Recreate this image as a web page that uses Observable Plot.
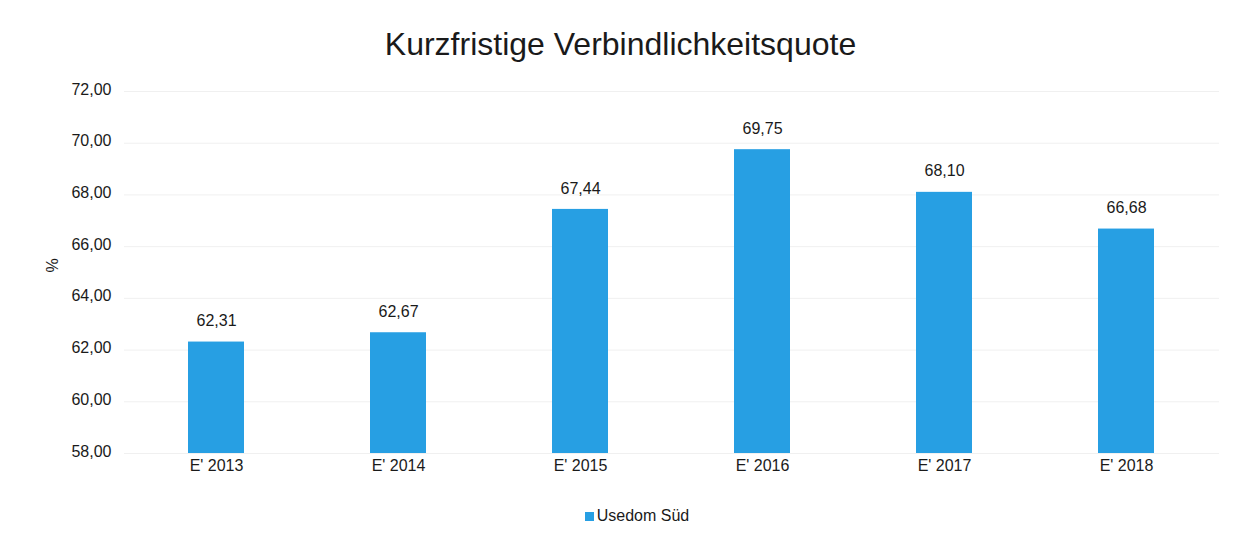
<!DOCTYPE html>
<html><head><meta charset="utf-8">
<script src="https://cdn.jsdelivr.net/npm/d3@7"></script>
<script src="https://cdn.jsdelivr.net/npm/@observablehq/plot@0.6"></script>
<style>
body{margin:0;background:#fff;font-family:"Liberation Sans",Arial,sans-serif;color:#1a1a1a;}
#title{height:72px;line-height:88px;text-align:center;font-size:32px;padding-right:6px;box-sizing:border-box;}
#legend{display:flex;justify-content:center;align-items:center;font-size:16px;padding-top:24px;padding-left:27px;}
#legend .sw{width:9px;height:9px;background:#279FE3;margin-right:3px;}
</style></head>
<body>
<div id="title">Kurzfristige Verbindlichkeitsquote</div>
<div id="chart"></div>
<div id="legend"><span class="sw"></span><span>Usedom Süd</span></div>
<script>
const categories = ["E' 2013","E' 2014","E' 2015","E' 2016","E' 2017","E' 2018"];
const values = [62.31, 62.67, 67.44, 69.75, 68.10, 66.68];
const yTicks = [58,60,62,64,66,68,70,72];
const seriesName = "Usedom Süd";

const fmt = d3.formatLocale({decimal:",", thousands:".", grouping:[3], currency:["","€"]}).format(".2f");
const data = categories.map((c,i)=>({cat:c, v:values[i]}));
const color = "#279FE3";

const plot = Plot.plot({
  width: 1247,
  height: 411,
  marginLeft: 124,
  marginRight: 28,
  marginTop: 19,
  marginBottom: 30,
  style: {fontFamily: '"Liberation Sans", Arial, sans-serif', fontSize: "16px", color: "#1a1a1a", background: "#fff"},
  x: {domain: categories, paddingInner: 0.69, paddingOuter: 0.345, label: null},
  y: {domain: [58, 72], label: null},
  marks: [
    Plot.gridY(yTicks, {stroke: "#f0f0f0", strokeOpacity: 1}),
    Plot.barY(data, {x: "cat", y1: 58, y2: "v", fill: color}),
    Plot.text(data, {x: "cat", y: "v", text: d => fmt(d.v), dy: -21, fontSize: 16, fill: "#1a1a1a"}),
    Plot.axisY(yTicks, {tickSize: 0, tickPadding: 13, tickFormat: fmt, fontSize: 16, dy: -2, label: null}),
    Plot.axisX({tickSize: 0, tickPadding: 6, fontSize: 16, label: null}),
    Plot.text(["%"], {frameAnchor: "left", dx: -72, rotate: -90, fontSize: 16, fill: "#1a1a1a"})
  ]
});
document.getElementById("chart").appendChild(plot);
</script>
</body></html>
